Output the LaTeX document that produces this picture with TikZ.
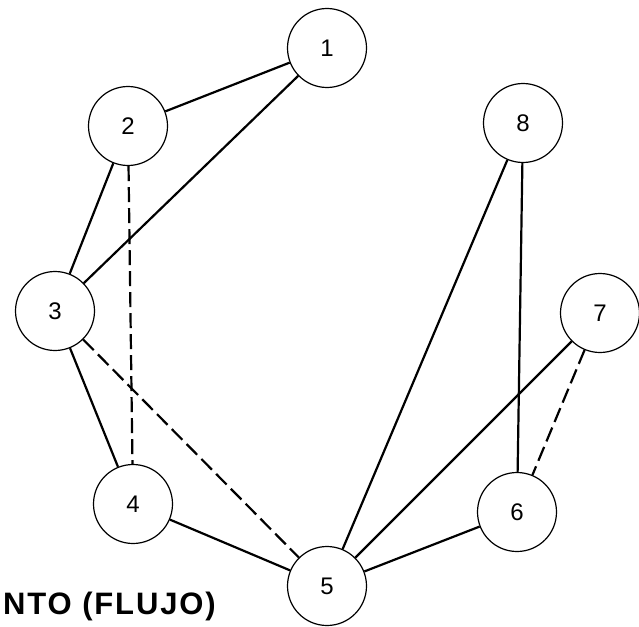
\documentclass[tikz,border=0pt]{standalone}
\usepackage{fontspec}
\setmainfont{Liberation Sans}
\begin{document}
\begin{tikzpicture}[x=1pt,y=-1pt,
  vert/.style={circle,draw,line width=1.2pt,minimum size=79pt,inner sep=0pt,font=\fontsize{24}{24}\selectfont},
  edge/.style={line width=2.2pt},
  dedge/.style={line width=2.2pt,dash pattern=on 15pt off 6pt}]
\useasboundingbox (0,0) rectangle (639,626);
\node[vert] (n1) at (327,48) {1};
\node[vert] (n2) at (128,126) {2};
\node[vert] (n8) at (523,123) {8};
\node[vert] (n3) at (55,311) {3};
\node[vert] (n7) at (600,313) {7};
\node[vert] (n4) at (133,504) {4};
\node[vert] (n6) at (517,512) {6};
\node[vert] (n5) at (327,586) {5};
\node[anchor=west,inner sep=0pt,font=\bfseries\fontsize{31}{31}\selectfont\addfontfeatures{LetterSpace=6}] (lbl) at (3,606) {NTO (FLUJO)};
\draw[edge] (n2) -- (n1);
\draw[edge] (n3) -- (n1);
\draw[edge] (n2) -- (n3);
\draw[dedge] (n2) -- (n4);
\draw[edge] (n3) -- (n4);
\draw[dedge] (n3) -- (n5);
\draw[edge] (n4) -- (n5);
\draw[edge] (n5) -- (n8);
\draw[edge] (n5) -- (n7);
\draw[edge] (n5) -- (n6);
\draw[edge] (n8) -- (n6);
\draw[dedge] (n7) -- (n6);
\end{tikzpicture}
\end{document}
